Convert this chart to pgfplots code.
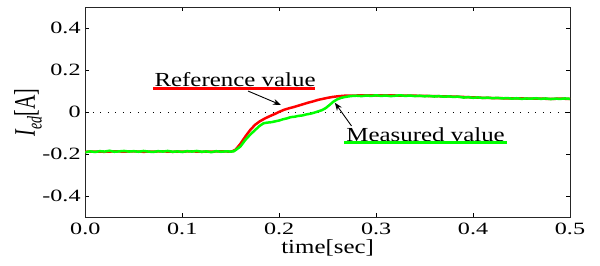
\documentclass[border=0pt]{standalone}
\usepackage{fontspec}
\setmainfont{Liberation Serif}[FakeStretch=1.25]
\newfontfamily\tickfont{Liberation Serif}[FakeStretch=1.4]
\newfontfamily\plainfont{Liberation Serif}
\usepackage{graphicx}
\usepackage{pgfplots}
\pgfplotsset{compat=1.18}
\usetikzlibrary{calc,arrows.meta}

\pgfplotstableread{
t v
0.000 -0.188
0.010 -0.187
0.020 -0.188
0.030 -0.186
0.040 -0.187
0.050 -0.186
0.060 -0.188
0.070 -0.187
0.080 -0.186
0.090 -0.188
0.100 -0.187
0.110 -0.186
0.120 -0.188
0.130 -0.187
0.140 -0.186
0.150 -0.187
0.152 -0.185
0.155 -0.178
0.160 -0.150
0.165 -0.116
0.170 -0.085
0.175 -0.060
0.180 -0.043
0.185 -0.030
0.190 -0.019
0.195 -0.009
0.200 0.002
0.205 0.012
0.210 0.019
0.215 0.025
0.220 0.032
0.225 0.039
0.230 0.046
0.235 0.052
0.240 0.059
0.245 0.064
0.250 0.069
0.255 0.073
0.260 0.076
0.265 0.078
0.270 0.080
0.280 0.080
0.290 0.081
0.300 0.080
0.310 0.081
0.320 0.080
0.330 0.080
0.340 0.079
0.350 0.078
0.360 0.077
0.370 0.076
0.380 0.075
0.390 0.073
0.400 0.071
0.410 0.069
0.420 0.068
0.430 0.067
0.440 0.066
0.450 0.066
0.460 0.065
0.470 0.065
0.480 0.064
0.490 0.065
0.500 0.064
}\refdata

\pgfplotstableread{
t v
0.000 -0.190
0.005 -0.186
0.010 -0.189
0.015 -0.185
0.020 -0.187
0.025 -0.183
0.030 -0.188
0.035 -0.186
0.040 -0.184
0.045 -0.187
0.050 -0.185
0.055 -0.188
0.060 -0.184
0.065 -0.187
0.070 -0.189
0.075 -0.185
0.080 -0.187
0.085 -0.184
0.090 -0.188
0.095 -0.186
0.100 -0.189
0.105 -0.185
0.110 -0.187
0.115 -0.184
0.120 -0.188
0.125 -0.186
0.130 -0.190
0.135 -0.185
0.140 -0.188
0.145 -0.186
0.150 -0.187
0.153 -0.186
0.155 -0.180
0.160 -0.163
0.165 -0.132
0.170 -0.107
0.175 -0.085
0.180 -0.064
0.184 -0.052
0.188 -0.049
0.192 -0.047
0.196 -0.043
0.200 -0.039
0.204 -0.033
0.208 -0.029
0.212 -0.023
0.216 -0.021
0.220 -0.017
0.224 -0.015
0.228 -0.010
0.232 -0.007
0.236 -0.002
0.240 0.004
0.244 0.010
0.248 0.020
0.252 0.035
0.256 0.051
0.260 0.062
0.264 0.069
0.268 0.073
0.272 0.076
0.276 0.078
0.280 0.079
0.285 0.077
0.290 0.080
0.295 0.078
0.300 0.081
0.305 0.078
0.310 0.080
0.315 0.077
0.320 0.079
0.325 0.081
0.330 0.078
0.335 0.080
0.340 0.077
0.345 0.079
0.350 0.076
0.355 0.078
0.360 0.075
0.365 0.077
0.370 0.074
0.375 0.076
0.380 0.073
0.385 0.075
0.390 0.070
0.395 0.072
0.400 0.069
0.405 0.071
0.410 0.068
0.415 0.070
0.420 0.067
0.425 0.069
0.430 0.066
0.435 0.068
0.440 0.065
0.445 0.067
0.450 0.064
0.455 0.066
0.460 0.065
0.465 0.067
0.470 0.064
0.475 0.066
0.480 0.063
0.485 0.065
0.490 0.064
0.495 0.066
0.500 0.064
}\measdata

\begin{document}
\begin{tikzpicture}
\begin{axis}[
  name=ax,
  scale only axis,
  width=484.7bp, height=210bp,
  xmin=0, xmax=0.5, ymin=-0.5, ymax=0.5,
  xtick={0,0.1,0.2,0.3,0.4,0.5},
  xticklabels={0.0,0.1,0.2,0.3,0.4,0.5},
  ytick={-0.4,-0.2,0,0.2,0.4},
  yticklabels={-0.4,-0.2,0,0.2,0.4},
  tick align=inside,
  major tick length=4bp,
  axis line style={line width=1bp, black!85},
  tick style={black, line width=0.6bp},
  xticklabel style={font=\fontsize{17.3}{20}\tickfont, yshift=-2bp},
  yticklabel style={font=\fontsize{17.3}{20}\tickfont, xshift=-1.2bp},
  xlabel={time[sec]},
  xlabel style={at={(axis description cs:0.5,0)}, anchor=base, yshift=-35.7bp, font=\fontsize{20}{24}\selectfont},
  ylabel={\plainfont\scalebox{1}[1.5]{\fontsize{20}{24}\selectfont\itshape I\raisebox{-0.22em}{\fontsize{14}{14}\selectfont ed}\upshape[A]}},
  ylabel style={at={(axis description cs:-0.1182,0.5)}, anchor=center, rotate=0},
]
\addplot[black, line width=1bp, dash pattern=on 1bp off 6.5bp] coordinates {(0,0) (0.5,0)};
\addplot[red, line width=2.5bp] table[x=t,y=v] {\refdata};
\addplot[green, line width=2.5bp] table[x=t,y=v] {\measdata};
\node[anchor=base, font=\fontsize{20}{24}\selectfont, inner sep=0pt] at (axis cs:0.1545,0.1205) {Reference value};
\draw[red, line width=2.6bp] (axis cs:0.0698,0.1143) -- (axis cs:0.2368,0.1143);
\draw[black, line width=0.9bp, -{Stealth[length=8bp,width=6bp]}] (axis cs:0.168,0.101) -- (axis cs:0.2018,0.035);
\node[anchor=base, font=\fontsize{20}{24}\selectfont, inner sep=0pt] at (axis cs:0.351,-0.138) {Measured value};
\draw[green, line width=2.6bp] (axis cs:0.267,-0.145) -- (axis cs:0.4345,-0.145);
\draw[black, line width=0.9bp, -{Stealth[length=8bp,width=6bp]}] (axis cs:0.2746,-0.065) -- (axis cs:0.2574,0.046);
\end{axis}
\path ($(ax.south west)+(-85.3bp,-47.7bp)$) rectangle ($(ax.north east)+(30bp,7.3bp)$);
\end{tikzpicture}
\end{document}
